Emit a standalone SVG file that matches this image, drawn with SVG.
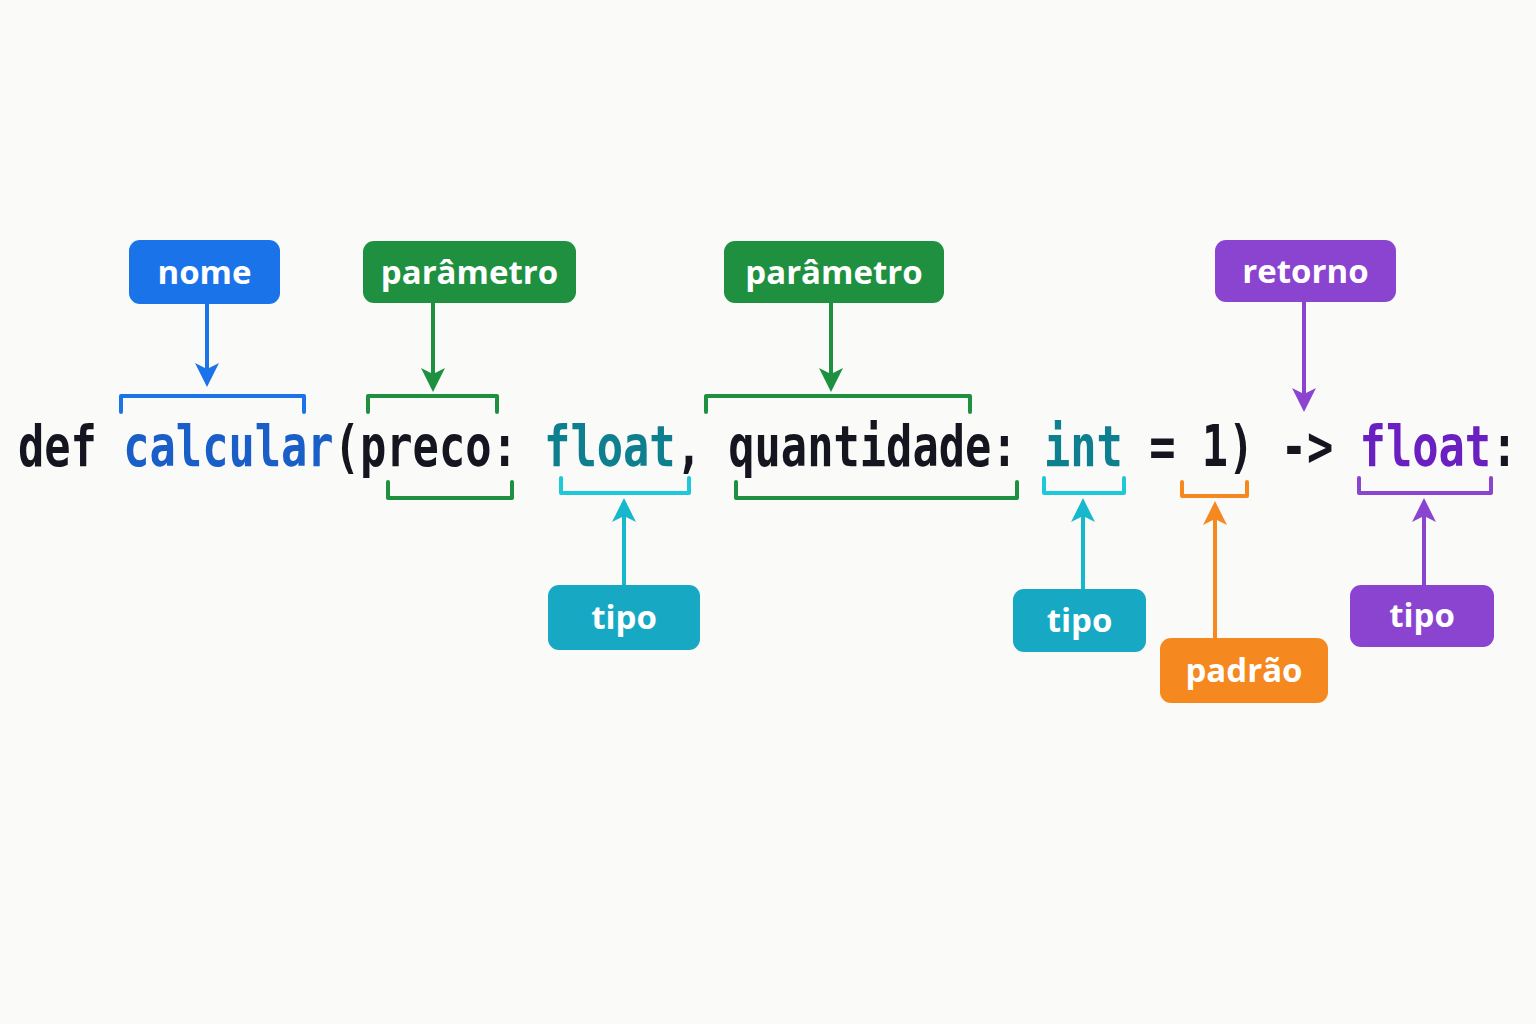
<svg xmlns="http://www.w3.org/2000/svg" width="1536" height="1024" viewBox="0 0 1536 1024">
<style>
.lbl{font-family:"Open Sans","Noto Sans",sans-serif;font-weight:700;font-size:33px;fill:#fff;text-anchor:middle}
.code{font-family:"DejaVu Sans Mono","Liberation Mono",monospace;font-weight:bold;font-size:43.7px;fill:#15151f}
.br{fill:none;stroke-width:4;stroke-linecap:round;stroke-linejoin:round}
.ar{stroke-width:4;fill:none}
</style>
<defs>
<marker id="mb" markerWidth="8" markerHeight="8" refX="5" refY="4" orient="auto" markerUnits="userSpaceOnUse" viewBox="0 0 8 8"><path d="M0,0 L8,4 L0,8 z" fill="#1a73e8"/></marker>
<marker id="mg" markerWidth="26" markerHeight="24" refX="20" refY="12" orient="auto" markerUnits="userSpaceOnUse"><path d="M0,0 L24,12 L0,24 L6,12 z" fill="#1e9040"/></marker>
<marker id="mblue" markerWidth="26" markerHeight="24" refX="20" refY="12" orient="auto" markerUnits="userSpaceOnUse"><path d="M0,0 L24,12 L0,24 L6,12 z" fill="#1a73e8"/></marker>
<marker id="mt" markerWidth="26" markerHeight="24" refX="20" refY="12" orient="auto" markerUnits="userSpaceOnUse"><path d="M0,0 L24,12 L0,24 L6,12 z" fill="#17b8cc"/></marker>
<marker id="mo" markerWidth="26" markerHeight="24" refX="20" refY="12" orient="auto" markerUnits="userSpaceOnUse"><path d="M0,0 L24,12 L0,24 L6,12 z" fill="#f5891f"/></marker>
<marker id="mp" markerWidth="26" markerHeight="24" refX="20" refY="12" orient="auto" markerUnits="userSpaceOnUse"><path d="M0,0 L24,12 L0,24 L6,12 z" fill="#8a44d0"/></marker>
</defs>
<rect width="1536" height="1024" fill="#fafaf8"/>
<g id="code">
<text class="code" transform="translate(18,466) scale(1,1.3)" xml:space="preserve" x="0" y="0">def <tspan fill="#1a5fc8">calcular</tspan>(preco: <tspan fill="#0e7f8f">float</tspan>, quantidade: <tspan fill="#0e7f8f">int</tspan> = 1) -&gt; <tspan fill="#6a1fc0">float</tspan>:</text>
</g>
<g id="brackets">
<path class="br" stroke="#1a73e8" d="M121,412 V396 H304 V412"/>
<path class="br" stroke="#1e9040" d="M368,412 V396 H497 V412"/>
<path class="br" stroke="#1e9040" d="M388,482 V498 H512 V482"/>
<path class="br" stroke="#1e9040" d="M706,412 V396 H970 V412"/>
<path class="br" stroke="#1e9040" d="M736,482 V498 H1017 V482"/>
<path class="br" stroke="#1ec8d8" d="M561,478 V493 H689 V478"/>
<path class="br" stroke="#1ec8d8" d="M1044,478 V493 H1124 V478"/>
<path class="br" stroke="#f5891f" d="M1182,482 V496 H1247 V482"/>
<path class="br" stroke="#8a44d0" d="M1359,478 V493 H1491 V478"/>
</g>
<g id="connectors">
<line class="ar" stroke="#1a73e8" x1="207" y1="304" x2="207" y2="383" marker-end="url(#mblue)"/>
<line class="ar" stroke="#1e9040" x1="433" y1="303" x2="433" y2="388" marker-end="url(#mg)"/>
<line class="ar" stroke="#1e9040" x1="831" y1="303" x2="831" y2="388" marker-end="url(#mg)"/>
<line class="ar" stroke="#8a44d0" x1="1304" y1="302" x2="1304" y2="408" marker-end="url(#mp)"/>
<line class="ar" stroke="#17b8cc" x1="624" y1="585" x2="624" y2="502" marker-end="url(#mt)"/>
<line class="ar" stroke="#17b8cc" x1="1083" y1="589" x2="1083" y2="502" marker-end="url(#mt)"/>
<line class="ar" stroke="#f5891f" x1="1215" y1="638" x2="1215" y2="505" marker-end="url(#mo)"/>
<line class="ar" stroke="#8a44d0" x1="1424" y1="585" x2="1424" y2="502" marker-end="url(#mp)"/>
</g>
<g id="nome"><rect x="129" y="240" width="151" height="64" rx="11" fill="#1a73e8"/><text class="lbl" x="204.5" y="284">nome</text></g>
<g id="parametro1"><rect x="363" y="241" width="213" height="62" rx="11" fill="#1e9040"/><text class="lbl" x="469.5" y="284">parâmetro</text></g>
<g id="parametro2"><rect x="724" y="241" width="220" height="62" rx="11" fill="#1e9040"/><text class="lbl" x="834" y="284">parâmetro</text></g>
<g id="retorno"><rect x="1215" y="240" width="181" height="62" rx="11" fill="#8a44d0"/><text class="lbl" x="1305.5" y="283">retorno</text></g>
<g id="tipo1"><rect x="548" y="585" width="152" height="65" rx="11" fill="#17a9c4"/><text class="lbl" x="624" y="629">tipo</text></g>
<g id="tipo2"><rect x="1013" y="589" width="133" height="63" rx="11" fill="#17a9c4"/><text class="lbl" x="1079.5" y="632">tipo</text></g>
<g id="padrao"><rect x="1160" y="638" width="168" height="65" rx="11" fill="#f5891f"/><text class="lbl" x="1244" y="682">padrão</text></g>
<g id="tipo3"><rect x="1350" y="585" width="144" height="62" rx="11" fill="#8a44d0"/><text class="lbl" x="1422" y="627">tipo</text></g>
</svg>
